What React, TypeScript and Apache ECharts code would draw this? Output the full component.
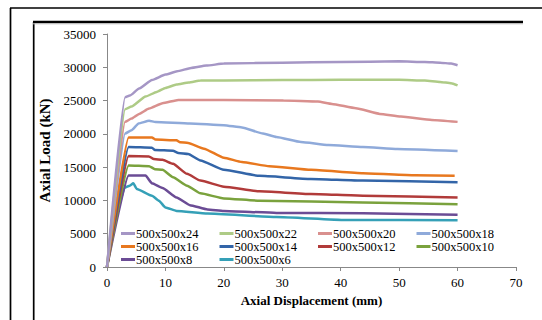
import React, { useEffect, useRef } from "react";
import * as echarts from "echarts";

const xTicks = [0, 10, 20, 30, 40, 50, 60, 70];
const yTicks = [0, 5000, 10000, 15000, 20000, 25000, 30000, 35000];

const s24 = [[0, 0], [3.1, 25500], [3.9, 25750], [5.5, 26800], [7.7, 28100], [10, 28900], [12, 29400], [14.4, 29900], [17, 30250], [20, 30550], [30, 30700], [40, 30800], [50, 30900], [54.4, 30800], [57, 30700], [58.9, 30550], [60, 30300]];
const s22 = [[0, 0], [3.1, 23700], [4.2, 24100], [6.6, 25600], [8.5, 26300], [10, 26900], [11.9, 27400], [14, 27700], [16, 28000], [20, 28030], [30, 28080], [40, 28120], [50, 28130], [54.4, 28000], [57, 27800], [58.9, 27600], [60, 27270]];
const s20 = [[0, 0], [3.1, 21800], [4.2, 22300], [5.5, 23000], [7.2, 23800], [9.5, 24600], [12.2, 25100], [20, 25100], [30.2, 25000], [36.1, 24850], [38.5, 24500], [42.6, 23850], [46.7, 23000], [50.3, 22600], [55.6, 22100], [60, 21800]];
const s18 = [[0, 0], [3.1, 20050], [4.2, 20550], [5.4, 21560], [7.2, 21970], [8.3, 21770], [14.2, 21560], [20, 21300], [23.1, 20960], [26.7, 20050], [29, 19540], [33.2, 18790], [37.9, 18330], [43.8, 18030], [49.7, 17730], [60, 17420]];
const s16 = [[0, 0], [3.7, 19440], [7.7, 19440], [8.3, 19140], [11.9, 19040], [12.5, 18740], [13.9, 18630], [16.6, 17780], [20, 16410], [23.1, 15760], [27.8, 15150], [34.9, 14600], [43.8, 14090], [52.7, 13790], [59.5, 13690]];
const s14 = [[0, 0], [3.7, 18030], [7.7, 17930], [8.2, 17570], [11.3, 17470], [12.2, 17120], [13.9, 16970], [16, 16010], [20, 14600], [26.1, 13690], [34.9, 13230], [43.8, 12980], [60, 12730]];
const s12 = [[0, 0], [3.7, 16670], [7.2, 16610], [8, 16210], [9.5, 16110], [11.3, 15500], [13.7, 13990], [16, 12980], [20, 12070], [26.1, 11360], [34.9, 10960], [43.8, 10710], [60, 10450]];
const s10 = [[0, 0], [3.7, 15250], [7.2, 15150], [8.2, 14700], [9.5, 14600], [11.3, 13480], [13.7, 12220], [16, 11060], [20, 10300], [26.1, 9950], [43.8, 9700], [60, 9440]];
const s8 = [[0, 0], [3.7, 13740], [6.6, 13740], [7.7, 12570], [9.5, 11870], [11.9, 10450], [14.2, 9290], [17.2, 8640], [20, 8430], [29, 8130], [43.8, 8080], [60, 7830]];
const s6 = [[0, 0], [0.95, 5000], [1.8, 8500], [3, 11900], [3.9, 12220], [4.5, 12570], [5.1, 11720], [7.7, 10710], [8.9, 9950], [10, 8940], [11.9, 8430], [17.2, 8030], [29, 7520], [40.8, 7070], [60, 7020]];

const seriesNames = ["500x500x24", "500x500x22", "500x500x20", "500x500x18", "500x500x16", "500x500x14", "500x500x12", "500x500x10", "500x500x8", "500x500x6"];
const seriesData = [s24, s22, s20, s18, s16, s14, s12, s10, s8, s6];
const seriesColors = ["#A596C5", "#AECB86", "#D9908E", "#8FAADA", "#E8781F", "#3365A8", "#B13B3A", "#7AA23D", "#6B4C95", "#35A0B7"];

const FONT = "'Liberation Serif', 'Times New Roman', serif";

export default function App() {
  const ref = useRef<HTMLDivElement>(null);
  useEffect(() => {
    if (!ref.current) return;
    const chart = echarts.init(ref.current, null, { renderer: "svg" });
    const legendRows = [seriesNames.slice(0, 4), seriesNames.slice(4, 8), seriesNames.slice(8)];
    const legendTops = [227, 240, 253];
    chart.setOption({
      animation: false,
      backgroundColor: "#ffffff",
      grid: { left: 107, right: 26, top: 34, bottom: 53 },
      xAxis: {
        type: "value",
        min: 0,
        max: 70,
        interval: 10,
        name: "Axial Displacement (mm)",
        nameLocation: "middle",
        nameGap: 27,
        nameTextStyle: { fontFamily: FONT, fontWeight: "bold", fontSize: 13, color: "#000", verticalAlign: "top" },
        axisLine: { show: true, lineStyle: { color: "#888888", width: 1 } },
        axisTick: { show: true, length: 4, lineStyle: { color: "#888888" } },
        axisLabel: { fontFamily: FONT, fontSize: 13, color: "#000", margin: 9, formatter: (v: number) => (xTicks.includes(v) ? String(v) : "") },
        splitLine: { show: false },
      },
      yAxis: {
        type: "value",
        min: 0,
        max: 35000,
        interval: 5000,
        name: "Axial Load (kN)",
        nameLocation: "middle",
        nameGap: 47,
        nameTextStyle: { fontFamily: FONT, fontWeight: "bold", fontSize: 15, color: "#000" },
        axisLine: { show: true, lineStyle: { color: "#888888", width: 1 } },
        axisTick: { show: true, length: 4, lineStyle: { color: "#888888" } },
        axisLabel: { fontFamily: FONT, fontSize: 13, color: "#000", margin: 11, formatter: (v: number) => (yTicks.includes(v) ? String(v) : "") },
        splitLine: { show: false },
      },
      legend: legendRows.map((row, i) => ({
        data: row,
        left: 121,
        top: legendTops[i],
        padding: 0,
        orient: "horizontal",
        itemWidth: 14,
        itemHeight: 3,
        itemGap: 17.5,
        icon: "rect",
        selectedMode: false,
        textStyle: { fontFamily: FONT, fontSize: 12.5, color: "#000", width: 66, lineHeight: 12, padding: [0, 0, 0, -4] },
      })),
      series: seriesNames.map((name, i) => ({
        name,
        type: "line",
        data: seriesData[i],
        showSymbol: false,
        symbol: "none",
        smooth: 0.15,
        smoothMonotone: "x",
        color: seriesColors[i],
        lineStyle: { color: seriesColors[i], width: 2.5 },
        z: 10 - i,
      })),
      graphic: [
        { type: "line", shape: { x1: 10.5, y1: 8, x2: 10.5, y2: 320 }, style: { stroke: "#000", lineWidth: 1.7 } },
        { type: "line", shape: { x1: 10, y1: 8, x2: 542, y2: 8 }, style: { stroke: "#000", lineWidth: 1.5 } },
        { type: "line", shape: { x1: 33.7, y1: 22, x2: 33.7, y2: 320 }, style: { stroke: "#000", lineWidth: 1.7 } },
        { type: "line", shape: { x1: 33, y1: 22, x2: 523, y2: 22 }, style: { stroke: "#000", lineWidth: 2.5 } },
        { type: "line", shape: { x1: 33, y1: 23.8, x2: 523, y2: 23.8 }, style: { stroke: "#bbbbbb", lineWidth: 1 } },
      ],
    });
    return () => chart.dispose();
  }, []);
  return <div ref={ref} style={{ position: "absolute", left: 0, top: 0, width: 542, height: 320 }} />;
}
